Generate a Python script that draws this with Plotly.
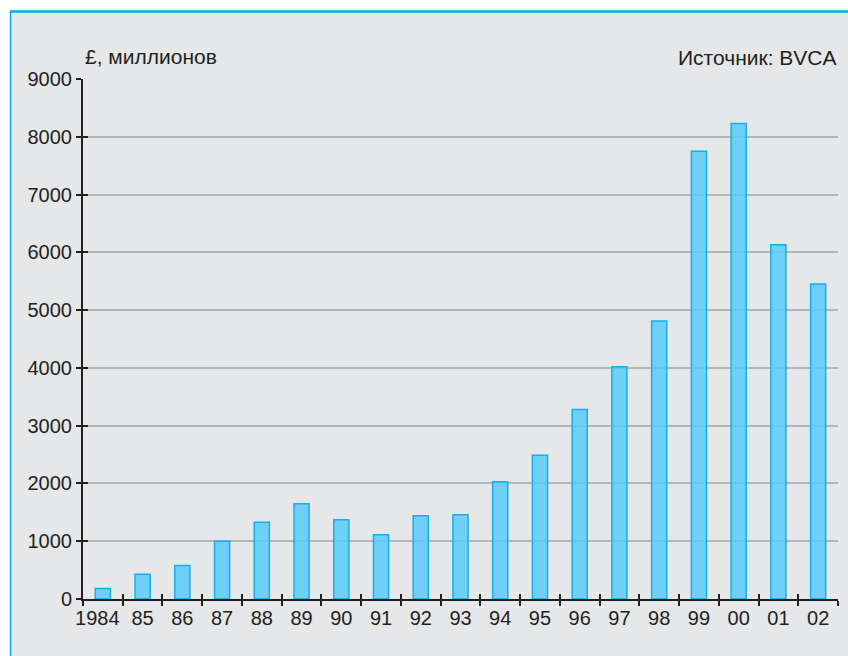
import plotly.graph_objects as go

# ---- data ----
years = ["1984", "85", "86", "87", "88", "89", "90", "91", "92", "93",
         "94", "95", "96", "97", "98", "99", "00", "01", "02"]
values = [180, 430, 580, 1000, 1330, 1650, 1370, 1110, 1440, 1460,
          2030, 2490, 3280, 4020, 4810, 7750, 8230, 6130, 5450]
y_ticks = [0, 1000, 2000, 3000, 4000, 5000, 6000, 7000, 8000, 9000]
y_label = "£, миллионов"
source_label = "Источник: BVCA"

# ---- layout geometry (pixels) ----
W, H = 848, 656
ML, MR, MT, MB = 83, 10, 79, 57
PW = W - ML - MR
PH = H - MT - MB


def px_x(px):
    return (px - ML) / PW


def px_y(py):
    return (H - MB - py) / PH


TXT = "#231f20"
FONT = "Liberation Sans, Arial, sans-serif"
BG = "#e6e7e8"
CYAN = "#00aeef"
x_range = [-0.5, len(years) - 0.5]
# first label sits a little left of its bar in the original
x_ticktext = [years[0] + "\u00a0" * 2] + years[1:]

fig = go.Figure()
fig.add_trace(go.Bar(
    x=years, y=values,
    marker=dict(color="rgba(88,203,249,0.85)", line=dict(color="#12b0ec", width=1.5)),
    hoverinfo="x+y",
))
# invisible trace carrying the overlay axes (crossing tick marks)
fig.add_trace(go.Scatter(
    x=years, y=values, xaxis="x2", yaxis="y2", mode="markers",
    marker=dict(opacity=0), hoverinfo="skip", showlegend=False,
))

axis_common = dict(
    showline=True, linecolor=TXT, linewidth=2,
    tickcolor=TXT, tickwidth=2,
    tickfont=dict(family=FONT, size=20, color=TXT),
)

fig.update_layout(
    width=W, height=H,
    margin=dict(l=ML, r=MR, t=MT, b=MB),
    paper_bgcolor="white",
    plot_bgcolor="rgba(0,0,0,0)",
    bargap=0.62,
    showlegend=False,
    xaxis=dict(
        type="category", range=x_range, tickson="boundaries", ticks="outside", ticklen=5,
        tickmode="array", tickvals=years, ticktext=x_ticktext,
        tickangle=0, showgrid=False, zeroline=False, **axis_common,
    ),
    yaxis=dict(
        range=[0, 9000], tickvals=y_ticks, ticks="outside", ticklen=5,
        showgrid=True, gridcolor="#b4b5b7", gridwidth=1.5,
        zeroline=False, **axis_common,
    ),
    xaxis2=dict(
        type="category", overlaying="x", range=x_range, tickson="boundaries",
        ticks="inside", ticklen=5, tickcolor=TXT, tickwidth=2,
        showticklabels=False, showgrid=False, showline=False, zeroline=False,
    ),
    yaxis2=dict(
        overlaying="y", range=[0, 9000], tickvals=y_ticks,
        ticks="inside", ticklen=5, tickcolor=TXT, tickwidth=2,
        showticklabels=False, showgrid=False, showline=False, zeroline=False,
    ),
    shapes=[
        dict(type="rect", xref="paper", yref="paper", layer="below",
             x0=px_x(10), x1=px_x(W + 20), y0=px_y(H + 20), y1=px_y(11),
             fillcolor=BG, line=dict(width=0)),
        dict(type="line", xref="paper", yref="paper", layer="above",
             x0=px_x(10), x1=px_x(W + 20), y0=px_y(11.5), y1=px_y(11.5),
             line=dict(color=CYAN, width=2.5)),
        dict(type="line", xref="paper", yref="paper", layer="above",
             x0=px_x(10.5), x1=px_x(10.5), y0=px_y(11), y1=px_y(H + 20),
             line=dict(color=CYAN, width=1.5)),
    ],
    annotations=[
        dict(text=y_label, xref="paper", yref="paper", x=px_x(83), y=px_y(57),
             xanchor="left", yanchor="middle", showarrow=False,
             font=dict(family=FONT, size=21, color=TXT)),
        dict(text=source_label, xref="paper", yref="paper", x=px_x(839), y=px_y(58),
             xanchor="right", yanchor="middle", showarrow=False,
             font=dict(family=FONT, size=21, color=TXT)),
    ],
)

fig.write_html(
    "out.html",
    config={"displayModeBar": False},
    post_script="document.body.style.margin='0';document.body.style.overflow='hidden';",
)
